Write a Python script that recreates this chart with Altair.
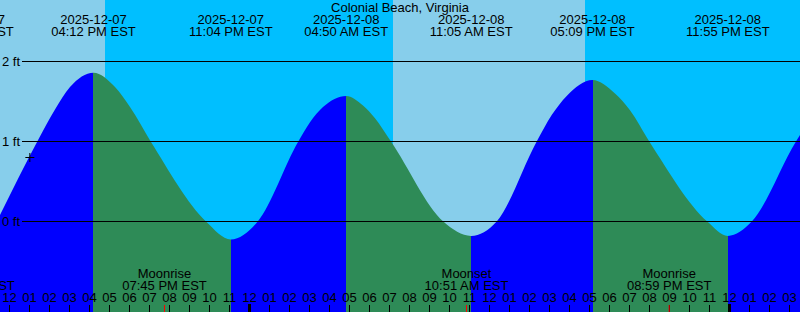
import altair as alt
import pandas as pd
from datetime import datetime

# ---------------- data ----------------
REF = datetime(2025, 12, 8, 0, 0)          # hours are counted from this instant
X_MIN, X_MAX = -12.475, 27.525             # visible time window (hours)
Y_MIN, Y_MAX = -1.13125, 2.76875           # visible height window (ft)

TITLE = "Colonial Beach, Virginia"

# tide extremes (labels at the top)
TIDE_DATES = ["2025-12-07", "2025-12-07", "2025-12-07", "2025-12-08",
              "2025-12-08", "2025-12-08", "2025-12-08"]
TIDE_TIMES = ["10:07 AM", "04:12 PM", "11:04 PM", "04:50 AM",
              "11:05 AM", "05:09 PM", "11:55 PM"]
TIDE_KINDS = ["Low", "High", "Low", "High", "Low", "High", "Low"]

# moon events (labels at the bottom)
MOON_DATES = ["2025-12-07", "2025-12-07", "2025-12-08", "2025-12-08"]
MOON_TIMES = ["10:10 AM", "07:45 PM", "10:51 AM", "08:59 PM"]
MOON_EVENTS = ["Moonset", "Moonrise", "Moonset", "Moonrise"]

# sun events (day / night background)
SUN_STAMPS = ["2025-12-07 04:46:30 PM", "2025-12-08 07:10:30 AM", "2025-12-08 04:46:30 PM"]
SUN_EVENTS = ["Sunset", "Sunrise", "Sunset"]

# tide curve (hours from REF, feet)
CURVE_HOURS = [-12.475, -10.61, -9.725, -8.975, -7.8, -6.725, -5.975, -4.94,
               -2.175, -0.933, 0.41, 2.44, 3.025, 3.675, 4.833, 5.675, 6.275,
               7.075, 9.69, 11.083, 12.36, 14.36, 15.11, 15.86, 17.15, 18.275,
               19.025, 19.99, 22.89, 23.917, 25.11, 27.325, 27.525]
CURVE_FEET = [0.08, 1.00, 1.40, 1.68, 1.86, 1.68, 1.43, 1.00,
              0.00, -0.225, 0.00, 1.00, 1.24, 1.43, 1.57, 1.45, 1.29,
              1.00, 0.00, -0.18, 0.00, 1.00, 1.33, 1.57, 1.77, 1.60,
              1.39, 1.00, 0.00, -0.18, 0.00, 1.00, 1.08]

NOW_STAMP = "2025-12-07 01:01 PM"
NOW_FEET = 0.80

GRID_FEET = [0, 1, 2]
GRID_LABELS = ["0 ft", "1 ft", "2 ft"]

HOUR_TICKS = list(range(-12, 28))
HOUR_LABELS = [f"{(h % 12) or 12:02d}" for h in HOUR_TICKS]
MIDNIGHTS = [0, 24]

# colours
DAY, NIGHT = "#87CEEB", "#00BFFF"
FLOOD, EBB = "#0000FF", "#2E8B57"
FONT = dict(font="Liberation Sans", fontSize=13, color="black")


def hours(stamp):
    for fmt in ("%Y-%m-%d %I:%M:%S %p", "%Y-%m-%d %I:%M %p"):
        try:
            d = datetime.strptime(stamp, fmt)
            break
        except ValueError:
            continue
    return (d - REF).total_seconds() / 3600.0


xs = alt.Scale(domain=[X_MIN, X_MAX], nice=False, zero=False)
ys = alt.Scale(domain=[Y_MIN, Y_MAX], nice=False, zero=False)

# ---------------- tables ----------------
sun_h = [hours(s) for s in SUN_STAMPS]
edges = [X_MIN] + sun_h + [X_MAX]
kinds = ["Day" if SUN_EVENTS[0] == "Sunset" else "Night"]
for e in SUN_EVENTS:
    kinds.append("Night" if e == "Sunset" else "Day")
sky = pd.DataFrame({"x0": edges[:-1], "x1": edges[1:], "kind": kinds})

tides = pd.DataFrame({
    "t": [hours(f"{d} {t}") for d, t in zip(TIDE_DATES, TIDE_TIMES)],
    "date": TIDE_DATES,
    "time": [f"{t} EST" for t in TIDE_TIMES],
    "kind": TIDE_KINDS,
})
moons = pd.DataFrame({
    "t": [hours(f"{d} {t}") for d, t in zip(MOON_DATES, MOON_TIMES)],
    "event": MOON_EVENTS,
    "time": [f"{t} EST" for t in MOON_TIMES],
})
curve = pd.DataFrame({"t": CURVE_HOURS, "ft": CURVE_FEET})
grid = pd.DataFrame({"ft": GRID_FEET, "label": GRID_LABELS})
ticks = pd.DataFrame({"t": HOUR_TICKS, "label": HOUR_LABELS})
mid = pd.DataFrame({"t": MIDNIGHTS})
now = pd.DataFrame({"t": [hours(NOW_STAMP)], "ft": [NOW_FEET]})

# flood (rising) / ebb (falling) colouring of the water, changing at each extreme
span = CURVE_HOURS[-1] - CURVE_HOURS[0]
inside = [(t, k) for t, k in zip(tides["t"], TIDE_KINDS) if CURVE_HOURS[0] < t < CURVE_HOURS[-1]]
current = FLOOD if inside[0][1] == "High" else EBB
stops = [alt.GradientStop(offset=0, color=current)]
for t, k in inside:
    off = (t - CURVE_HOURS[0]) / span
    stops.append(alt.GradientStop(offset=off, color=current))
    current = EBB if k == "High" else FLOOD
    stops.append(alt.GradientStop(offset=off, color=current))
stops.append(alt.GradientStop(offset=1, color=current))
water = alt.LinearGradient(gradient="linear", stops=stops, x1=0, x2=1, y1=0, y2=0)

# ---------------- layers ----------------
sky_layer = alt.Chart(sky).mark_rect(clip=True).encode(
    x=alt.X("x0:Q", scale=xs, axis=None), x2="x1:Q",
    color=alt.Color("kind:N", scale=alt.Scale(domain=["Day", "Night"], range=[DAY, NIGHT]), legend=None),
)

water_layer = alt.Chart(curve).mark_area(
    interpolate="monotone", fill=water, opacity=1, fillOpacity=1, clip=True
).encode(
    x=alt.X("t:Q", scale=xs, axis=None),
    y=alt.Y("ft:Q", scale=ys, axis=None),
    y2=alt.datum(Y_MIN),
)

grid_layer = alt.Chart(grid).mark_rule(color="black", strokeWidth=1).encode(
    y=alt.Y("ft:Q", scale=ys, axis=None), x=alt.value(22), x2=alt.value(800),
)
grid_text = alt.Chart(grid).mark_text(align="right", baseline="middle", **FONT).encode(
    y=alt.Y("ft:Q", scale=ys, axis=None), x=alt.value(20), text="label:N",
)

now_layer = alt.Chart(now).mark_point(
    shape="M-1,0L1,0M0,-1L0,1", size=81, filled=False, color="black", strokeWidth=1, opacity=1
).encode(x=alt.X("t:Q", scale=xs, axis=None), y=alt.Y("ft:Q", scale=ys, axis=None))

title_layer = alt.Chart(pd.DataFrame({"s": [TITLE]})).mark_text(
    align="center", baseline="alphabetic", **FONT
).encode(x=alt.value(400), y=alt.value(12), text="s:N")

tide_date = alt.Chart(tides).mark_text(align="center", baseline="alphabetic", **FONT).encode(
    x=alt.X("t:Q", scale=xs, axis=None), y=alt.value(24), text="date:N")
tide_time = alt.Chart(tides).mark_text(align="center", baseline="alphabetic", **FONT).encode(
    x=alt.X("t:Q", scale=xs, axis=None), y=alt.value(36), text="time:N")

moon_name = alt.Chart(moons).mark_text(align="center", baseline="alphabetic", **FONT).encode(
    x=alt.X("t:Q", scale=xs, axis=None), y=alt.value(278), text="event:N")
moon_time = alt.Chart(moons).mark_text(align="center", baseline="alphabetic", **FONT).encode(
    x=alt.X("t:Q", scale=xs, axis=None), y=alt.value(290), text="time:N")

hour_text = alt.Chart(ticks).mark_text(align="center", baseline="alphabetic", **FONT).encode(
    x=alt.X("t:Q", scale=xs, axis=None), y=alt.value(302), text="label:N")
hour_ticks = alt.Chart(ticks).mark_rule(color="black", strokeWidth=1).encode(
    x=alt.X("t:Q", scale=xs, axis=None), y=alt.value(305), y2=alt.value(312))
mid_ticks = alt.Chart(mid).mark_rule(color="black", strokeWidth=3).encode(
    x=alt.X("t:Q", scale=xs, axis=None), y=alt.value(304), y2=alt.value(312))
moon_ticks = alt.Chart(moons).mark_rule(color="#FF0000", strokeWidth=1).encode(
    x=alt.X("t:Q", scale=xs, axis=None), y=alt.value(305), y2=alt.value(312))

chart = alt.layer(
    sky_layer, water_layer, grid_layer, grid_text, now_layer, title_layer,
    tide_date, tide_time, moon_name, moon_time, hour_text, hour_ticks, mid_ticks, moon_ticks,
).properties(
    width=800, height=312, autosize=alt.AutoSizeParams(type="none"), padding=0,
    background="white",
).configure_view(strokeWidth=0)

chart.save("out.html", embed_options={"renderer": "svg", "actions": False})
